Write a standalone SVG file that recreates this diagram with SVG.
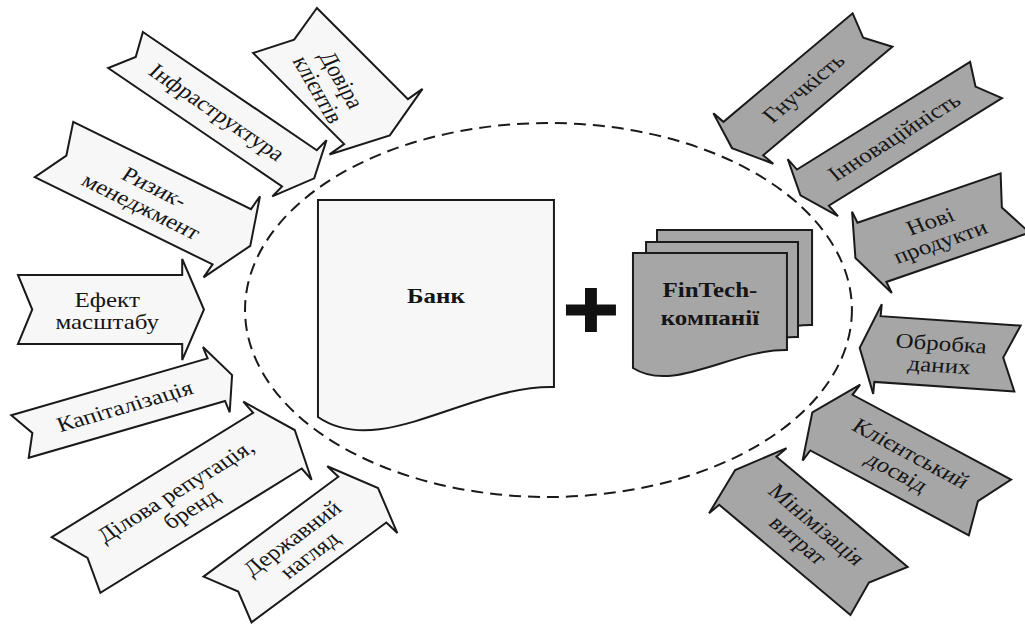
<svg xmlns="http://www.w3.org/2000/svg" width="1025" height="625" viewBox="0 0 1025 625">
<style>
.s{vector-effect:non-scaling-stroke;stroke:#1a1a1a;stroke-width:2;stroke-linejoin:miter}
.lt{fill:#f7f7f7}
.dk{fill:#a6a6a6}
.t{font-family:'Liberation Serif','DejaVu Serif','Times New Roman',serif;font-size:21px;fill:#151515;text-anchor:middle}
.b{font-weight:bold}
.ell{fill:none;stroke:#1a1a1a;stroke-width:2;stroke-dasharray:12 7;vector-effect:non-scaling-stroke}
</style>
<rect width="1025" height="625" fill="#ffffff"/>
<g transform="scale(1.19 1)">
  <g id="boundary">
    <ellipse class="ell" cx="460.9" cy="310" rx="255" ry="187"/>
  </g>

  <g id="arrow-efekt" transform="translate(15.1 309.5) rotate(0)">
    <path class="s lt" d="M0,-34.5 L138,-34.5 L138,-50.5 L156.3,0 L138,50.5 L138,34.5 L0,34.5 L12,0 Z"/>
    <text class="t" font-family="Liberation Serif, serif" x="75" y="-3">Ефект</text>
    <text class="t" font-family="Liberation Serif, serif" x="75" y="19">масштабу</text>
  </g>
  <g id="arrow-kapitalizatsiia" transform="translate(16.8 436.5) rotate(-19)">
    <path class="s lt" d="M0,-22.5 L174.5,-22.5 L174.5,-34.5 L188.5,0 L174.5,34.5 L174.5,22.5 L0,22.5 L11,0 Z"/>
    <text class="t" font-family="Liberation Serif, serif" x="93" y="7">Капіталізація</text>
  </g>
  <g id="arrow-dilova" transform="translate(63.9 565) rotate(-36.3)">
    <path class="s lt" d="M0,-34.5 L210,-34.5 L210,-48.5 L228,0 L210,48.5 L210,34.5 L0,34.5 L12,0 Z"/>
    <text class="t" font-family="Liberation Serif, serif" x="111" y="-3">Ділова репутація,</text>
    <text class="t" font-family="Liberation Serif, serif" x="111" y="19">бренд</text>
  </g>
  <g id="arrow-derzhavnyi" transform="translate(191.2 599.5) rotate(-41.4)">
    <path class="s lt" d="M0,-30.5 L151,-30.5 L151,-44.5 L168.6,0 L151,44.5 L151,30.5 L0,30.5 L12,0 Z"/>
    <text class="t" font-family="Liberation Serif, serif" x="81" y="-3">Державний</text>
    <text class="t" font-family="Liberation Serif, serif" x="81" y="19">нагляд</text>
  </g>
  <g id="arrow-ryzyk" transform="translate(45.4 149.5) rotate(30.3)">
    <path class="s lt" d="M0,-32 L173,-32 L173,-47 L191,0 L173,47 L173,32 L0,32 L12,0 Z"/>
    <text class="t" font-family="Liberation Serif, serif" x="92" y="-3">Ризик-</text>
    <text class="t" font-family="Liberation Serif, serif" x="92" y="19">менеджмент</text>
  </g>
  <g id="arrow-infra" transform="translate(105.5 50) rotate(39)">
    <path class="s lt" d="M0,-23.2 L188,-23.2 L188,-36.2 L204,0 L188,36.2 L188,23.2 L0,23.2 L11,0 Z"/>
    <text class="t" font-family="Liberation Serif, serif" x="99" y="7">Інфраструктура</text>
  </g>
  <g id="arrow-dovira" transform="translate(239.5 30.5) rotate(50)">
    <path class="s lt" d="M0,-35 L119,-35 L119,-51 L137,0 L119,51 L119,35 L0,35 L12,0 Z"/>
    <g transform="rotate(14 66 5)">
      <text class="t" font-family="Liberation Serif, serif" x="66" y="2">Довіра</text>
      <text class="t" font-family="Liberation Serif, serif" x="66" y="24">клієнтів</text>
    </g>
  </g>

  <g id="arrow-hnuchkist" transform="translate(733.2 30) rotate(135)">
    <path class="s dk" d="M0,-23.6 L153.5,-23.6 L153.5,-35.6 L167,0 L153.5,35.6 L153.5,23.6 L0,23.6 L11,0 Z"/>
    <text class="t" font-family="Liberation Serif, serif" x="82" y="7" transform="rotate(180 82 0)">Гнучкість</text>
  </g>
  <g id="arrow-innovatsiinist" transform="translate(828.6 80) rotate(143.5)">
    <path class="s dk" d="M0,-22.5 L181,-22.5 L181,-35.5 L194,0 L181,35.5 L181,22.5 L0,22.5 L11,0 Z"/>
    <text class="t" font-family="Liberation Serif, serif" x="96" y="7" transform="rotate(180 96 0)">Інноваційність</text>
  </g>
  <g id="arrow-novi" transform="translate(853 203) rotate(157.7)">
    <path class="s dk" d="M0,-32 L130,-32 L130,-44 L145,0 L130,44 L130,32 L0,32 L12,0 Z"/>
    <g transform="rotate(180 73 0)">
      <text class="t" font-family="Liberation Serif, serif" x="73" y="-3">Нові</text>
      <text class="t" font-family="Liberation Serif, serif" x="73" y="19">продукти</text>
    </g>
  </g>
  <g id="arrow-obrobka" transform="translate(855 358.5) rotate(184.6)">
    <path class="s dk" d="M0,-33 L118,-33 L118,-45 L133,0 L118,45 L118,33 L0,33 L12,0 Z"/>
    <g transform="rotate(180 65 0)">
      <text class="t" font-family="Liberation Serif, serif" x="65" y="-3">Обробка</text>
      <text class="t" font-family="Liberation Serif, serif" x="65" y="19">даних</text>
    </g>
  </g>
  <g id="arrow-kliientskyi" transform="translate(831.9 507.5) rotate(212.5)">
    <path class="s dk" d="M0,-33 L158,-33 L158,-45 L177,0 L158,45 L158,33 L0,33 L12,0 Z"/>
    <g transform="rotate(180 85 0)">
      <text class="t" font-family="Liberation Serif, serif" x="85" y="-3">Клієнтський</text>
      <text class="t" font-family="Liberation Serif, serif" x="85" y="19">досвід</text>
    </g>
  </g>
  <g id="arrow-minimizatsiia" transform="translate(738.7 591) rotate(225)">
    <path class="s dk" d="M0,-34 L156,-34 L156,-46 L171,0 L156,46 L156,34 L0,34 L12,0 Z"/>
    <g transform="rotate(180 84 0)">
      <text class="t" font-family="Liberation Serif, serif" x="84" y="-3">Мінімізація</text>
      <text class="t" font-family="Liberation Serif, serif" x="84" y="19">витрат</text>
    </g>
  </g>

  <g id="bank">
    <path class="s lt" d="M267.2,200 H465.5 V387 C395,385 319.3,460 267.2,417 Z"/>
    <text class="t b" font-family="Liberation Serif, serif" x="366.4" y="303">Банк</text>
  </g>
  <g id="plus">
    <path fill="#111" d="M475.6,304.5 H491.6 V288 H501.6 V304.5 H517.6 V315.5 H501.6 V332 H491.6 V315.5 H475.6 Z"/>
  </g>
  <g id="fintech">
    <path class="s dk" d="M552.1,230 H682.4 V325 C636.1,324 586.4,369 552.1,343 Z"/>
    <path class="s dk" d="M542.9,242 H670.6 V337 C625.3,336 576.5,381 542.9,355 Z"/>
    <path class="s dk" d="M531.9,253 H661.3 V350 C615.4,349 566,394 531.9,368 Z"/>
    <text class="t b" font-family="Liberation Serif, serif" x="596.6" y="297">FinTech-</text>
    <text class="t b" font-family="Liberation Serif, serif" x="596.6" y="325">компанії</text>
  </g>
</g>
</svg>
